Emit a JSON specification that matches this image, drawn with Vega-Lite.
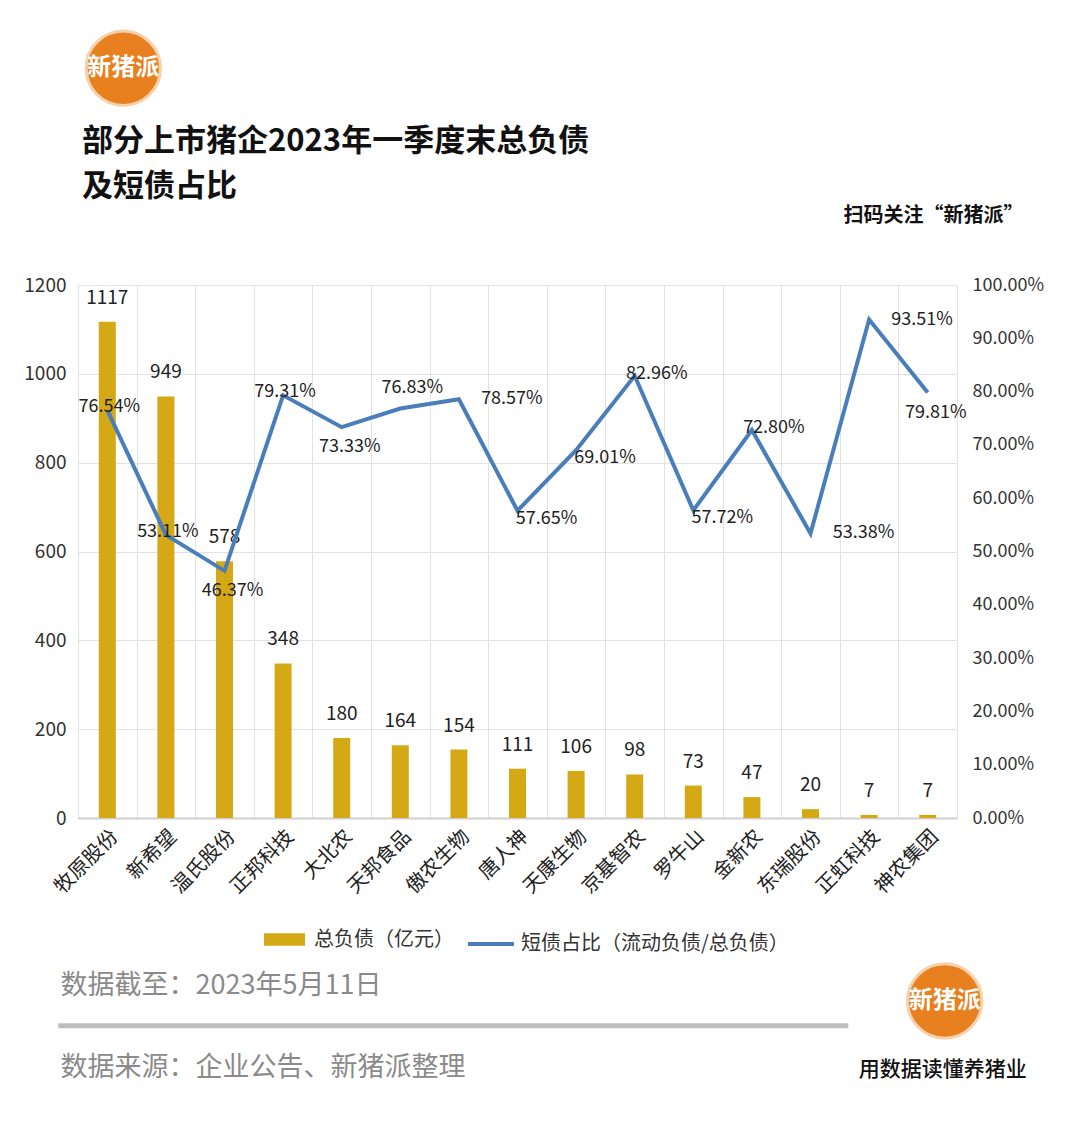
{
  "$schema": "https://vega.github.io/schema/vega-lite/v6.json",
  "width": 879,
  "height": 533,
  "autosize": {"type": "none"},
  "padding": {"left": 78, "top": 285, "right": 123, "bottom": 306},
  "background": "white",
  "config": {
    "font": "Noto Sans CJK SC",
    "view": {"stroke": "#E2E2E2", "strokeWidth": 1},
    "axis": {"labelFont": "Noto Sans CJK SC", "titleFont": "Noto Sans CJK SC"},
    "legend": {"labelFont": "Noto Sans CJK SC", "padding": 0, "labelLimit": 500}
  },
  "title": {
    "text": ["部分上市猪企2023年一季度末总负债", "及短债占比"],
    "anchor": "start",
    "frame": "group",
    "orient": "top",
    "font": "Noto Sans CJK SC",
    "fontSize": 31,
    "fontWeight": "bold",
    "color": "#111111",
    "lineHeight": 45,
    "dx": 4,
    "offset": -178
  },
  "data": {
    "values": [
      {"company": "牧原股份", "debt": 1117, "ratio": 0.7654},
      {"company": "新希望", "debt": 949, "ratio": 0.5311},
      {"company": "温氏股份", "debt": 578, "ratio": 0.4637},
      {"company": "正邦科技", "debt": 348, "ratio": 0.7931},
      {"company": "大北农", "debt": 180, "ratio": 0.7333},
      {"company": "天邦食品", "debt": 164, "ratio": 0.7683},
      {"company": "傲农生物", "debt": 154, "ratio": 0.7857},
      {"company": "唐人神", "debt": 111, "ratio": 0.5765},
      {"company": "天康生物", "debt": 106, "ratio": 0.6901},
      {"company": "京基智农", "debt": 98, "ratio": 0.8296},
      {"company": "罗牛山", "debt": 73, "ratio": 0.5772},
      {"company": "金新农", "debt": 47, "ratio": 0.728},
      {"company": "东瑞股份", "debt": 20, "ratio": 0.5338},
      {"company": "正虹科技", "debt": 7, "ratio": 0.9351},
      {"company": "神农集团", "debt": 7, "ratio": 0.7981}
    ]
  },
  "layer": [
    {
      "layer": [
        {
          "mark": {"type": "bar", "size": 17},
          "encoding": {
            "x": {
              "field": "company", "type": "nominal", "sort": null,
              "scale": {"domain": ["牧原股份","新希望","温氏股份","正邦科技","大北农","天邦食品","傲农生物","唐人神","天康生物","京基智农","罗牛山","金新农","东瑞股份","正虹科技","神农集团"], "paddingInner": 0, "paddingOuter": 0},
              "axis": {
                "tickBand": "extent", "ticks": false, "grid": true, "gridColor": "#E2E2E2",
                "domain": true, "domainColor": "#D0D0D0", "domainWidth": 2,
                "labelAngle": -45, "labelFontSize": 20, "labelColor": "#222222", "labelPadding": 8,
                "title": "数据截至：2023年5月11日",
                "titleX": -18, "titleY": 167, "titleAlign": "left", "titleBaseline": "middle",
                "titleFontSize": 27, "titleFontWeight": "normal", "titleColor": "#8A8A8A"
              }
            },
            "y": {
              "field": "debt", "type": "quantitative",
              "scale": {"domain": [0, 1200], "nice": false},
              "axis": {
                "values": [0, 200, 400, 600, 800, 1000, 1200], "format": "d",
                "ticks": false, "domain": false, "grid": true, "gridColor": "#E2E2E2",
                "labelFontSize": 19, "labelColor": "#333333", "labelPadding": 12,
                "title": "数据来源：企业公告、新猪派整理",
                "titleAngle": 0, "titleX": -18, "titleY": 782, "titleAlign": "left", "titleBaseline": "middle",
                "titleFontSize": 27, "titleFontWeight": "normal", "titleColor": "#8A8A8A"
              }
            },
            "color": {
              "datum": "总负债（亿元）",
              "scale": {"range": ["#D5A916"]},
              "legend": {
                "orient": "none", "legendX": 186, "legendY": 634, "title": null,
                "symbolType": "M-1,-0.3H1V0.3H-1Z", "symbolSize": 1681, "symbolStrokeWidth": 0,
                "labelFontSize": 20, "labelColor": "#333333", "labelOffset": 9
              }
            }
          }
        },
        {
          "mark": {"type": "text", "fontSize": 19, "color": "#222222", "baseline": "middle", "dy": -24},
          "encoding": {
            "x": {"field": "company", "type": "nominal", "sort": null},
            "y": {"field": "debt", "type": "quantitative"},
            "text": {"field": "debt", "type": "quantitative", "format": "d"}
          }
        },
        {
          "data": {"values": [{}]},
          "mark": {"type": "rule", "color": "#BDBDBD", "strokeWidth": 5, "xOffset": -49, "x2Offset": 155},
          "encoding": {
            "x": {"datum": "牧原股份"},
            "x2": {"datum": "罗牛山"},
            "y": {"datum": -468}
          }
        },
        {
          "data": {"values": [{}]},
          "mark": {"type": "point", "shape": "circle", "size": 5540, "filled": true, "fill": "#E8801F", "stroke": "#F6D2AC", "strokeWidth": 3, "opacity": 1, "xOffset": 16},
          "encoding": {
            "x": {"datum": "牧原股份"},
            "y": {"datum": 1688}
          }
        },
        {
          "data": {"values": [{}]},
          "mark": {"type": "text", "text": "新猪派", "fontSize": 24, "fontWeight": "bold", "color": "#FFFFFF", "xOffset": 16},
          "encoding": {
            "x": {"datum": "牧原股份"},
            "y": {"datum": 1688}
          }
        },
        {
          "data": {"values": [{}]},
          "mark": {"type": "point", "shape": "circle", "size": 5540, "filled": true, "fill": "#E8801F", "stroke": "#F6D2AC", "strokeWidth": 3, "opacity": 1, "xOffset": 17},
          "encoding": {
            "x": {"datum": "神农集团"},
            "y": {"datum": -412}
          }
        },
        {
          "data": {"values": [{}]},
          "mark": {"type": "text", "text": "新猪派", "fontSize": 24, "fontWeight": "bold", "color": "#FFFFFF", "xOffset": 17},
          "encoding": {
            "x": {"datum": "神农集团"},
            "y": {"datum": -412}
          }
        },
        {
          "data": {"values": [{}]},
          "mark": {"type": "text", "text": "用数据读懂养猪业", "fontSize": 21, "fontWeight": 500, "color": "#111111", "xOffset": 15},
          "encoding": {
            "x": {"datum": "神农集团"},
            "y": {"datum": -567}
          }
        }
      ]
    },
    {
      "encoding": {
        "x": {"field": "company", "type": "nominal", "sort": null},
        "y": {"field": "ratio", "type": "quantitative", "scale": {"domain": [0, 1], "nice": false}}
      },
      "layer": [
        {
          "mark": {"type": "line", "strokeWidth": 4},
          "encoding": {
            "y": {
              "field": "ratio", "type": "quantitative",
              "axis": {
                "orient": "right", "values": [0, 0.1, 0.2, 0.3, 0.4, 0.5, 0.6, 0.7, 0.8, 0.9, 1],
                "format": ".2%", "ticks": false, "domain": false, "grid": false,
                "labelFontSize": 18, "labelColor": "#333333", "labelPadding": 15,
                "title": "扫码关注“新猪派”",
                "titleAngle": 0, "titleX": -24, "titleY": -70, "titleAlign": "center", "titleBaseline": "middle",
                "titleFontSize": 20, "titleFontWeight": "bold", "titleColor": "#111111"
              }
            },
            "stroke": {
              "datum": "短债占比（流动负债/总负债）",
              "scale": {"range": ["#4A7EBB"]},
              "legend": {
                "orient": "none", "legendX": 388, "legendY": 634, "title": null,
                "symbolType": "stroke", "symbolSize": 2116, "symbolStrokeWidth": 4,
                "labelFontSize": 20, "labelColor": "#333333", "labelOffset": 5
              }
            }
          }
        },
        {
          "transform": [{"filter": {"field": "company", "oneOf": ["牧原股份", "新希望", "正邦科技"]}}],
          "mark": {"type": "text", "fontSize": 18, "color": "#222222", "dx": 2, "dy": -3},
          "encoding": {"text": {"field": "ratio", "type": "quantitative", "format": ".2%"}}
        },
        {
          "transform": [{"filter": {"field": "company", "oneOf": ["温氏股份", "大北农", "神农集团"]}}],
          "mark": {"type": "text", "fontSize": 18, "color": "#222222", "dx": 8, "dy": 20},
          "encoding": {"text": {"field": "ratio", "type": "quantitative", "format": ".2%"}}
        },
        {
          "transform": [{"filter": {"field": "company", "oneOf": ["天邦食品"]}}],
          "mark": {"type": "text", "fontSize": 18, "color": "#222222", "dx": 12, "dy": -20},
          "encoding": {"text": {"field": "ratio", "type": "quantitative", "format": ".2%"}}
        },
        {
          "transform": [{"filter": {"field": "company", "oneOf": ["傲农生物", "东瑞股份", "正虹科技"]}}],
          "mark": {"type": "text", "fontSize": 18, "color": "#222222", "dx": 53, "dy": 0},
          "encoding": {"text": {"field": "ratio", "type": "quantitative", "format": ".2%"}}
        },
        {
          "transform": [{"filter": {"field": "company", "oneOf": ["唐人神", "天康生物", "罗牛山"]}}],
          "mark": {"type": "text", "fontSize": 18, "color": "#222222", "dx": 29, "dy": 8},
          "encoding": {"text": {"field": "ratio", "type": "quantitative", "format": ".2%"}}
        },
        {
          "transform": [{"filter": {"field": "company", "oneOf": ["京基智农", "金新农"]}}],
          "mark": {"type": "text", "fontSize": 18, "color": "#222222", "dx": 22, "dy": -2},
          "encoding": {"text": {"field": "ratio", "type": "quantitative", "format": ".2%"}}
        }
      ]
    }
  ],
  "resolve": {"scale": {"y": "independent"}}
}
